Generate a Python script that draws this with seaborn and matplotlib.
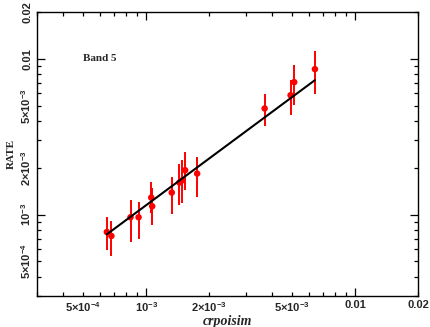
import numpy as np
import pandas as pd
import matplotlib
matplotlib.use("Agg")
import matplotlib.pyplot as plt
import matplotlib.ticker as mticker
import seaborn as sns

# data
crpoisim = [6.48e-4, 6.81e-4, 8.41e-4, 9.19e-4, 1.057e-3, 1.068e-3, 1.325e-3,
            1.442e-3, 1.49e-3, 1.536e-3, 1.753e-3, 3.688e-3, 4.91e-3, 5.11e-3, 6.42e-3]
rate = [7.73e-4, 7.29e-4, 9.61e-4, 9.61e-4, 1.286e-3, 1.131e-3, 1.385e-3,
        1.606e-3, 1.661e-3, 1.927e-3, 1.834e-3, 4.80e-3, 5.84e-3, 7.09e-3, 8.59e-3]
rate_hi = [9.65e-4, 9.10e-4, 1.249e-3, 1.205e-3, 1.62e-3, 1.476e-3, 1.744e-3,
           2.127e-3, 2.23e-3, 2.514e-3, 2.345e-3, 5.93e-3, 7.37e-3, 9.11e-3, 1.12e-2]
rate_lo = [5.90e-4, 5.42e-4, 6.67e-4, 7.01e-4, 1.02e-3, 8.53e-4, 1.015e-3,
           1.160e-3, 1.182e-3, 1.432e-3, 1.297e-3, 3.69e-3, 4.35e-3, 5.09e-3, 5.99e-3]
fit_x = [6.48e-4, 6.42e-3]
fit_y = [7.47e-4, 7.30e-3]

major_ticks = [1e-3, 1e-2]
major_labels = [r"10$^{-3}$", "0.01"]
labelled_minor = {5e-4: r"5×10$^{-4}$", 2e-3: r"2×10$^{-3}$", 5e-3: r"5×10$^{-3}$", 2e-2: "0.02"}

sns.set_style("ticks")
plt.rcParams['font.family'] = ['Liberation Sans', 'DejaVu Sans']
plt.rcParams['font.weight'] = 'bold'
plt.rcParams['mathtext.fontset'] = 'custom'
plt.rcParams['mathtext.rm'] = 'Liberation Sans:bold'
plt.rcParams['mathtext.bf'] = 'Liberation Sans:bold'
plt.rcParams['mathtext.default'] = 'rm'

df = pd.DataFrame({"crpoisim": crpoisim, "rate": rate})
fit = pd.DataFrame({"x": fit_x, "y": fit_y})

fig = plt.figure(figsize=(4.31, 3.27), dpi=100)
ax = fig.add_axes([37/431, 31/327, 381/431, 284/327])
ax.set_xscale("log")
ax.set_yscale("log")

yerr = np.array([np.array(rate) - np.array(rate_lo), np.array(rate_hi) - np.array(rate)])
ax.errorbar(crpoisim, rate, yerr=yerr, fmt='none', ecolor='#ff0000', elinewidth=1.4, capsize=0, zorder=2)
sns.scatterplot(data=df, x="crpoisim", y="rate", ax=ax, color='#ff0000', s=22, edgecolor='none', zorder=3)
sns.lineplot(data=fit, x="x", y="y", ax=ax, color='black', linewidth=1.5, zorder=4)

ax.set_xlim(3e-4, 2e-2)
ax.set_ylim(3e-4, 2e-2)


def minor_fmt(v, pos):
    for k, s in labelled_minor.items():
        if abs(v - k) / k < 1e-6:
            return s
    return ""


minor = [m * 10.0**e for e in (-4, -3, -2) for m in range(2, 10)]
for axis in (ax.xaxis, ax.yaxis):
    axis.set_major_locator(mticker.FixedLocator(major_ticks))
    axis.set_major_formatter(mticker.FixedFormatter(major_labels))
    axis.set_minor_locator(mticker.FixedLocator(minor))
    axis.set_minor_formatter(mticker.FuncFormatter(minor_fmt))

ax.tick_params(which='both', direction='in', top=True, right=True, width=0.9, color='black',
               labelsize=8, pad=3)
ax.tick_params(which='major', length=6)
ax.tick_params(which='minor', length=3)
for t in ax.get_yticklabels(which='both'):
    t.set_rotation(90)
    t.set_va('center')
for s in ax.spines.values():
    s.set_linewidth(1.0)
    s.set_color('black')

ax.set_xlabel("crpoisim", fontfamily='Liberation Serif', fontstyle='italic', fontweight='bold', fontsize=10, labelpad=1)
ax.set_ylabel("RATE", fontfamily='Liberation Serif', fontweight='bold', fontsize=8, labelpad=2)
ax.text(0.121, 0.835, "Band 5", transform=ax.transAxes, fontfamily='Liberation Serif',
        fontweight='bold', fontsize=8, va='center', ha='left')
if ax.get_legend():
    ax.get_legend().remove()

fig.savefig("out.png", dpi=100)
